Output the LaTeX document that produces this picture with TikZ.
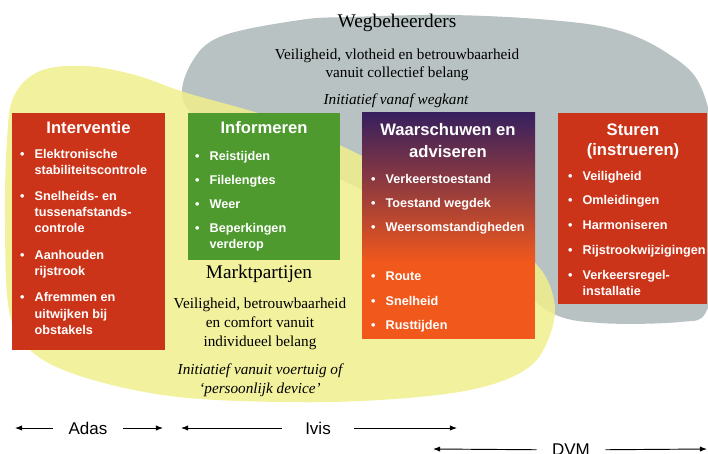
\documentclass[tikz,border=0pt]{standalone}
\usepackage{fontspec}
\setmainfont{Liberation Serif}
\setsansfont{Liberation Sans}
\usetikzlibrary{arrows.meta}

\definecolor{blobgrey}{RGB}{184,194,194}
\definecolor{blobyellow}{RGB}{240,238,140}
\definecolor{boxred}{RGB}{204,52,26}
\definecolor{boxgreen}{RGB}{78,154,46}
\definecolor{wpurple}{RGB}{55,32,94}
\definecolor{wred}{RGB}{186,56,44}
\definecolor{worange}{RGB}{240,88,28}

\tikzset{
  boxtitle/.style={anchor=base, align=center, text=white, inner sep=0pt,
    font=\sffamily\bfseries\fontsize{14.2}{18.5}\selectfont},
  boxlist/.style={anchor=base west, text=white, inner sep=0pt,
    font=\sffamily\bfseries\fontsize{10.8}{13.7}\selectfont},
  partytitle/.style={anchor=base, inner sep=0pt, font=\fontsize{16.5}{20}\selectfont},
  partytext/.style={anchor=base, align=center, inner sep=0pt, font=\fontsize{13}{15.6}\selectfont},
  initiative/.style={partytext, font=\itshape\fontsize{13}{16.2}\selectfont},
  rangelabel/.style={inner ysep=0pt, inner xsep=13pt, font=\sffamily\fontsize{14.5}{17}\selectfont},
  span/.style={-{Latex[length=6pt,width=4.5pt]}, line width=0.8pt},
}
\newcommand{\blt}{\textbullet}

\begin{document}
\begin{tikzpicture}[x=0.03cm,y=-0.03cm]
\useasboundingbox (0,0) rectangle (708,454);
\clip (0,0) rectangle (708,454);

% wegbeheerders en marktpartijen
\fill[blobgrey] plot[smooth cycle, tension=0.6] coordinates {
  (183,100) (192,62) (222,36) (300,20) (350,17) (450,15) (550,20) (617,30)
  (667,53) (700,85) (714,150) (714,260) (706,312) (680,322) (600,323)
  (550,312) (500,270) (420,220) (300,160) (215,128)};
\fill[blobyellow, fill opacity=0.85] plot[smooth cycle, tension=0.6] coordinates {
  (7,140) (14,96) (40,71) (85,66) (135,75) (187,93) (270,117) (350,150)
  (450,205) (530,258) (554,300) (548,340) (525,370) (470,390) (380,400)
  (280,402) (170,396) (80,376) (30,350) (9,310) (5,220)};

% vakken
\fill[boxred] (12,113) rectangle (165,350);
\fill[boxgreen] (188,113) rectangle (340,260);
\shade[top color=wpurple, middle color=wred, bottom color=worange] (362,113) rectangle (535,262);
\fill[worange] (362,261) rectangle (535,339);
\fill[boxred] (558,113) rectangle (707,304);

\node[boxtitle] (interv) at (88.5,134) {Interventie};
\node[boxlist] (intervlist) at (20,158) {\begin{tabular}[t]{@{}l@{\hspace{8.5pt}}l@{}}
  \blt & Elektronische\\ & stabiliteitscontrole\\[9pt]
  \blt & Snelheids- en\\ & tussenafstands-\\ & controle\\[9pt]
  \blt & Aanhouden\\ & rijstrook\\[9pt]
  \blt & Afremmen en\\ & uitwijken bij\\ & obstakels
\end{tabular}};

\node[boxtitle] (inform) at (264,133) {Informeren};
\node[boxlist] (informlist) at (195,160) {\begin{tabular}[t]{@{}l@{\hspace{8.5pt}}l@{}}
  \blt & Reistijden\\[6.8pt]
  \blt & Filelengtes\\[6.8pt]
  \blt & Weer\\[6.8pt]
  \blt & Beperkingen\\ & verderop
\end{tabular}};

\node[boxtitle] (waarsch) at (448,157) {Waarschuwen en\\adviseren};
\node[boxlist] (waarschlist) at (371,183) {\begin{tabular}[t]{@{}l@{\hspace{8.5pt}}l@{}}
  \blt & Verkeerstoestand\\[7.2pt]
  \blt & Toestand wegdek\\[7.2pt]
  \blt & Weersomstandigheden\\[28pt]
  \blt & Route\\[7.2pt]
  \blt & Snelheid\\[7.2pt]
  \blt & Rusttijden
\end{tabular}};

\node[boxtitle, font=\sffamily\bfseries\fontsize{14.2}{17}\selectfont] (sturen) at (633,155) {Sturen\\(instrueren)};
\node[boxlist] (sturenlist) at (568,180) {\begin{tabular}[t]{@{}l@{\hspace{8.5pt}}l@{}}
  \blt & Veiligheid\\[7.5pt]
  \blt & Omleidingen\\[7.5pt]
  \blt & Harmoniseren\\[7.5pt]
  \blt & Rijstrookwijzigingen\\[7.5pt]
  \blt & Verkeersregel-\\ & installatie
\end{tabular}};

% partijen
\node[partytitle] (wegb) at (397,28) {Wegbeheerders};
\node[partytext] (wegbdoel) at (397,78) {Veiligheid, vlotheid en betrouwbaarheid\\vanuit collectief belang};
\node[initiative] (wegbinit) at (396,105) {Initiatief vanaf wegkant};

\node[partytitle] (markt) at (259,278) {Marktpartijen};
\node[partytext, font=\fontsize{13}{16.2}\selectfont] (marktdoel) at (260,346) {Veiligheid, betrouwbaarheid\\en comfort vanuit\\individueel belang};
\node[initiative] (marktinit) at (260,393) {Initiatief vanuit voertuig of\\`persoonlijk device'};

% bereik
\node[rangelabel] (adas) at (88,428) {Adas};
\coordinate (adasL) at (15,428);
\coordinate (adasR) at (163,428);
\draw[span] (adas) -- (adasL);
\draw[span] (adas) -- (adasR);

\node[rangelabel, inner xsep=20pt] (ivis) at (318,428) {Ivis};
\coordinate (ivisL) at (181,428);
\coordinate (ivisR) at (457,428);
\draw[span] (ivis) -- (ivisL);
\draw[span] (ivis) -- (ivisR);

\node[rangelabel] (dvm) at (571,450) {DVM};
\coordinate (dvmL) at (433,449);
\coordinate (dvmR) at (707,449);
\draw[span] (dvm) -- (dvmL);
\draw[span] (dvm) -- (dvmR);

\end{tikzpicture}
\end{document}
